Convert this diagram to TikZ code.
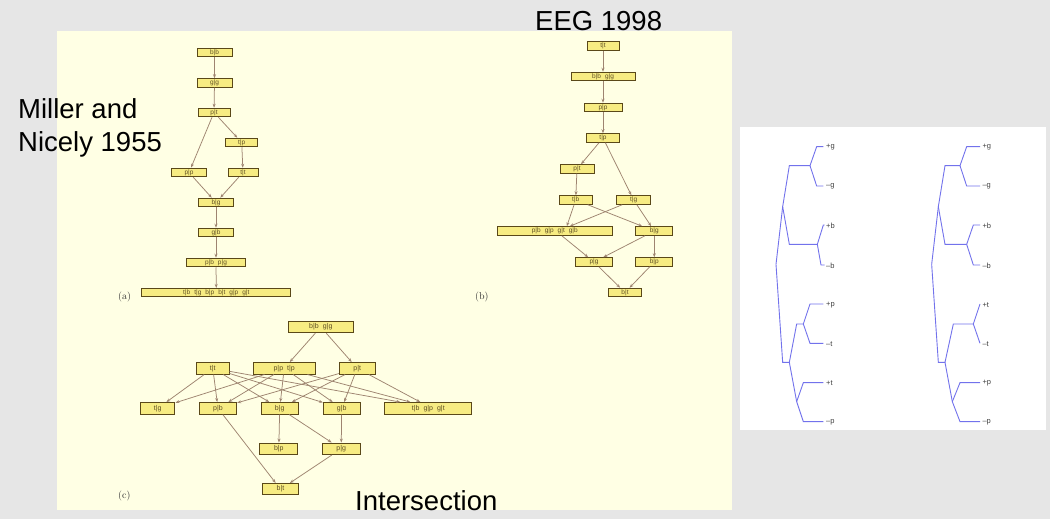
\documentclass[tikz,border=0pt]{standalone}
\usepackage{fontspec}
\newfontfamily\arial{Liberation Sans}
\usetikzlibrary{arrows.meta}
\definecolor{slide}{HTML}{E6E6E6}
\definecolor{cream}{HTML}{FFFFE4}
\definecolor{boxfill}{HTML}{F7EC82}
\definecolor{boxline}{HTML}{5A4818}
\definecolor{boxtext}{HTML}{5E4E22}
\definecolor{edgec}{HTML}{9E8470}
\definecolor{treec}{HTML}{7272EC}
\newcommand\gp{\hspace{4pt}}
\begin{document}
\begin{tikzpicture}[x=1pt,y=-1pt,
  gbox/.style={draw=boxline, fill=boxfill, line width=1pt, inner sep=0pt, minimum height=8.5pt, text=boxtext, font=\arial\fontsize{6.5}{6.5}\selectfont},
  cbox/.style={gbox, minimum height=11.5pt, font=\arial\fontsize{7}{7}\selectfont},
  arr/.style={draw=edgec, line width=0.75pt, -{Stealth[length=4pt,width=3pt]}},
  tree/.style={draw=treec, line width=0.9pt},
  leaf/.style={font=\arial\fontsize{7.5}{7.5}\selectfont, text=black!75, anchor=west, inner sep=0pt},
  bigtext/.style={font=\arial\fontsize{27.5}{33}\selectfont, inner sep=0pt, anchor=base west},
  plabel/.style={font=\fontsize{10}{10}\selectfont, text=black!80, inner sep=0pt, anchor=west}
]
\fill[slide] (0,0) rectangle (1050,519);
\useasboundingbox (0,0) rectangle (1050,519);
\fill[cream] (57,31) rectangle (732,510);
\fill[white] (740,127) rectangle (1046,430);

% ---------- (a) ----------
\node[gbox, minimum width=35pt] (a1) at (214.5,52.5) {b|b};
\node[gbox, minimum width=35pt] (a2) at (214.5,83) {g|g};
\node[gbox, minimum width=32pt] (a3) at (214,112.5) {p|t};
\node[gbox, minimum width=32pt] (a4) at (241.7,142.5) {t|p};
\node[gbox, minimum width=35pt] (a5) at (189,172.5) {p|p};
\node[gbox, minimum width=30pt] (a6) at (243,172.5) {t|t};
\node[gbox, minimum width=35pt] (a7) at (216,202.5) {b|g};
\node[gbox, minimum width=35pt] (a8) at (216,232.5) {g|b};
\node[gbox, minimum width=59pt] (a9) at (216,262.5) {p|b\gp p|g};
\node[gbox, minimum width=149pt] (a10) at (216.3,292.7) {t|b\gp t|g\gp b|p\gp b|t\gp g|p\gp g|t};
\draw[arr] (a1) -- (a2);
\draw[arr] (a2) -- (a3);
\draw[arr] (a3) -- (a5);
\draw[arr] (a3) -- (a4);
\draw[arr] (a4) -- (a6);
\draw[arr] (a5) -- (a7);
\draw[arr] (a6) -- (a7);
\draw[arr] (a7) -- (a8);
\draw[arr] (a8) -- (a9);
\draw[arr] (a9) -- (a10);
\node[plabel] (la) at (118,297) {(a)};

% ---------- (b) ----------
\node[gbox, minimum width=32pt] (b1) at (603,46) {t|t};
\node[gbox, minimum width=64pt] (b2) at (603,76.5) {b|b\gp g|g};
\node[gbox, minimum width=38pt] (b3) at (603,107.5) {p|p};
\node[gbox, minimum width=33pt] (b4) at (603,138) {t|p};
\node[gbox, minimum width=34pt] (b5) at (577,169) {p|t};
\node[gbox, minimum width=33pt] (b6) at (575.7,200) {t|b};
\node[gbox, minimum width=34pt] (b7) at (633.7,200) {t|g};
\node[gbox, minimum width=115pt] (b8) at (554.8,231) {p|b\gp g|p\gp g|t\gp g|b};
\node[gbox, minimum width=36.7pt] (b9) at (654.3,231) {b|g};
\node[gbox, minimum width=37pt] (b10) at (594,262) {p|g};
\node[gbox, minimum width=36.7pt] (b11) at (654.3,262) {b|p};
\node[gbox, minimum width=33pt] (b12) at (625,292.5) {b|t};
\draw[arr] (b1) -- (b2);
\draw[arr] (b2) -- (b3);
\draw[arr] (b3) -- (b4);
\draw[arr] (b4) -- (b5);
\draw[arr] (b4) -- (b7);
\draw[arr] (b5) -- (b6);
\draw[arr] (b6) -- ([xshift=12pt]b8.north);
\draw[arr] (b6) -- (b9);
\draw[arr] (b7) -- ([xshift=15pt]b8.north);
\draw[arr] (b7) -- (b9);
\draw[arr] ([xshift=7pt]b8.south) -- (b10);
\draw[arr] (b9) -- (b10);
\draw[arr] (b9) -- (b11);
\draw[arr] (b10) -- (b12);
\draw[arr] (b11) -- (b12);
\node[plabel] (lb) at (475,297) {(b)};

% ---------- (c) ----------
\node[cbox, minimum width=65pt] (c1) at (320.8,327) {b|b\gp g|g};
\node[cbox, minimum width=32.5pt] (c2) at (212.8,368.3) {t|t};
\node[cbox, minimum width=61.7pt] (c3) at (284.2,368.3) {p|p\gp t|p};
\node[cbox, minimum width=35.7pt] (c4) at (357.2,368.3) {p|t};
\node[cbox, minimum width=34.3pt] (c5) at (157.8,408.3) {t|g};
\node[cbox, minimum width=37.4pt] (c6) at (218,408.3) {p|b};
\node[cbox, minimum width=37.3pt] (c7) at (279.7,408.3) {b|g};
\node[cbox, minimum width=36.7pt] (c8) at (341.7,408.3) {g|b};
\node[cbox, minimum width=86.7pt] (c9) at (428.3,408.3) {t|b\gp g|p\gp g|t};
\node[cbox, minimum width=37.7pt] (c10) at (278.8,448.8) {b|p};
\node[cbox, minimum width=37.7pt] (c11) at (341.2,448.8) {p|g};
\node[cbox, minimum width=35.6pt] (c12) at (280.5,489.2) {b|t};
\draw[arr] (c1) -- (c3);
\draw[arr] (c1) -- (c4);
\foreach \t in {c5,c6,c7,c8} {\draw[arr] (c2) -- (\t);}
\draw[arr] (c2) -- ([xshift=-28pt]c9.north);
\foreach \t in {c5,c6,c7,c8} {\draw[arr] (c3) -- (\t);}
\draw[arr] (c3) -- ([xshift=-18pt]c9.north);
\foreach \t in {c6,c7,c8} {\draw[arr] (c4) -- (\t);}
\draw[arr] (c4) -- ([xshift=-8pt]c9.north);
\draw[arr] (c7) -- (c10);
\draw[arr] (c7) -- (c11);
\draw[arr] (c8) -- (c11);
\draw[arr] (c6) -- (c12);
\draw[arr] (c11) -- (c12);
\node[plabel] (lc) at (118,496) {(c)};

% ---------- trees ----------
\begin{scope}[shift={(740,125)}, x=0.33333pt, y=-0.33333pt]
% left tree
\draw[tree] (108,418) -- (128,245) -- (148,122) -- (210,122);
\draw[tree] (128,245) -- (148,358) -- (232,358);
\draw[tree] (250,65) -- (230,65) -- (210,122) -- (230,183) -- (250,183);
\draw[tree] (254,300) -- (250,300) -- (232,358) -- (243,420) -- (254,420);
\draw[tree] (108,418) -- (128,712) -- (148,712) -- (170,597) -- (190,597);
\draw[tree] (250,537) -- (210,537) -- (190,597) -- (210,655) -- (250,655);
\draw[tree] (148,712) -- (170,830);
\draw[tree] (250,773) -- (190,773) -- (170,830) -- (190,890) -- (250,890);
\node[leaf] (l1) at (258,67) {+g};
\node[leaf] (l2) at (258,185) {–g};
\node[leaf] (l3) at (258,302) {+b};
\node[leaf] (l4) at (258,422) {–b};
\node[leaf] (l5) at (258,539) {+p};
\node[leaf] (l6) at (258,657) {–t};
\node[leaf] (l7) at (258,775) {+t};
\node[leaf] (l8) at (258,892) {–p};
% right tree
\draw[tree] (575,418) -- (595,245) -- (615,122) -- (660,122);
\draw[tree] (595,245) -- (615,358) -- (680,358);
\draw[tree] (720,65) -- (680,65) -- (660,122) -- (680,183) -- (720,183);
\draw[tree] (720,300) -- (700,300) -- (680,358) -- (700,420) -- (720,420);
\draw[tree] (575,418) -- (595,712) -- (615,712) -- (640,597) -- (700,597);
\draw[tree] (720,537) -- (700,597) -- (720,655);
\draw[tree] (615,712) -- (637,830);
\draw[tree] (720,773) -- (660,773) -- (637,830) -- (660,890) -- (720,890);
\node[leaf] (r1) at (727,67) {+g};
\node[leaf] (r2) at (727,185) {–g};
\node[leaf] (r3) at (727,302) {+b};
\node[leaf] (r4) at (727,422) {–b};
\node[leaf] (r5) at (727,539) {+t};
\node[leaf] (r6) at (727,657) {–t};
\node[leaf] (r7) at (727,775) {+p};
\node[leaf] (r8) at (727,892) {–p};
\end{scope}

% ---------- titles ----------
\node[bigtext] (t1) at (18,118) {Miller and};
\node[bigtext] (t2) at (18,151) {Nicely 1955};
\node[bigtext] (t3) at (535,31) {EEG 1998};
\node[bigtext] (t4) at (355,510) {Intersection};
\end{tikzpicture}
\end{document}
